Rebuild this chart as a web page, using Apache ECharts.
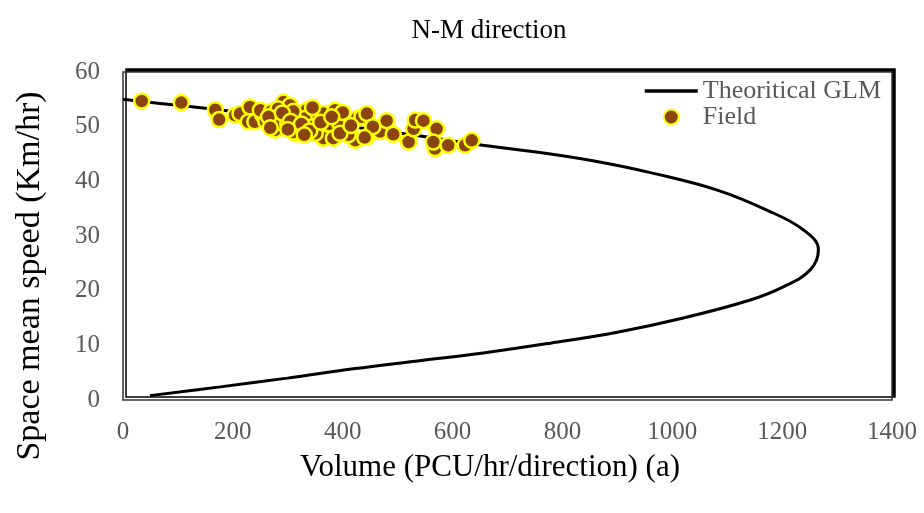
<!DOCTYPE html>
<html>
<head>
<meta charset="utf-8">
<script src="https://cdn.jsdelivr.net/npm/echarts@6/dist/echarts.min.js"></script>
<style>html,body{margin:0;padding:0;background:#fff;}#c{width:924px;height:513px;}</style>
</head>
<body>
<div id="c"></div>
<script>
// Theoretical GLM curve: [volume, speed]
var curveVolume = [0, 100, 208, 320, 430, 541, 641, 778, 870, 960, 1082, 1173, 1239, 1266, 1251, 1202, 1142, 1020, 900, 778, 656, 540, 419, 299, 177, 49];
var curveSpeed  = [55, 53.9, 52.7, 51.3, 49.8, 48.3, 46.8, 45.0, 43.5, 41.6, 38.4, 34.7, 31.1, 27.5, 23.8, 20.7, 18.3, 15.0, 12.4, 10.4, 8.6, 7.2, 5.7, 4.0, 2.4, 0.8];

// Field observations
var fieldVolume = [34, 106, 168, 175, 204, 213, 231, 228, 240, 254, 273, 277, 292, 304, 316, 319, 298, 322, 334, 337, 319, 355, 365, 365, 383, 386, 386, 405, 423, 426, 435, 444, 444, 453, 465, 468, 480, 492, 520, 529, 532, 547, 571, 568, 565, 592, 623, 635,
                   260, 285, 300, 310, 330, 345, 350, 375, 395, 410, 250, 270, 282, 345, 400, 455, 310, 440,
                   265, 290, 305, 325, 340, 360, 380, 395, 415, 300, 268, 330];
var fieldSpeed  = [54.7, 54.4, 53.1, 51.3, 52.1, 52.4, 53.6, 50.9, 50.9, 52.2, 50.3, 49.4, 54.5, 53.9, 48.7, 52.1, 51.5, 52.1, 53.0, 50.3, 49.7, 52.1, 52.4, 47.9, 47.9, 53.0, 51.5, 49.7, 47.5, 51.5, 51.8, 52.4, 48.1, 49.1, 49.1, 49.1, 51.1, 48.6, 47.2, 49.6, 51.2, 51.1, 49.6, 46.0, 47.2, 46.6, 46.6, 47.5,
                   51.0, 50.8, 50.5, 49.0, 51.5, 50.0, 48.8, 50.5, 50.5, 48.5, 53.0, 52.8, 53.3, 53.5, 52.6, 50.0, 52.8, 48.0,
                   51.8, 52.5, 51.0, 50.5, 49.2, 50.8, 51.8, 48.8, 50.2, 49.5, 49.8, 48.5];

var xTicks = [0, 200, 400, 600, 800, 1000, 1200, 1400];
var yTicks = [0, 10, 20, 30, 40, 50, 60];

var curveData = curveVolume.map(function (v, i) { return [v, curveSpeed[i]]; });
var fieldData = fieldVolume.map(function (v, i) { return [v, fieldSpeed[i]]; });

var font = 'Liberation Serif';
var chart = echarts.init(document.getElementById('c'));
chart.setOption({
  animation: false,
  backgroundColor: '#fff',
  title: {
    text: 'N-M direction',
    left: 484, top: 12, textAlign: 'center',
    textStyle: { fontFamily: font, fontSize: 27, fontWeight: 'normal', color: '#000' }
  },
  legend: {
    orient: 'vertical', left: 643, top: 78, padding: 0,
    itemWidth: 53, itemHeight: 15, itemGap: 0,
    textStyle: { fontFamily: font, fontSize: 26, lineHeight: 26, color: '#595959' },
    data: [
      { name: 'Theoritical GLM', itemStyle: { opacity: 0 }, lineStyle: { width: 3.5, color: '#000' } },
      { name: 'Field', icon: 'circle' }
    ]
  },
  grid: {
    left: 123, right: 32, top: 72, bottom: 113,
    show: true, backgroundColor: '#fff', borderColor: '#333', borderWidth: 1.5,
    shadowColor: '#000', shadowOffsetX: 3, shadowOffsetY: -3, shadowBlur: 0
  },
  xAxis: {
    type: 'value', min: xTicks[0], max: xTicks[xTicks.length - 1], interval: 200,
    name: 'Volume (PCU/hr/direction) (a)', nameLocation: 'middle', nameGap: 52,
    nameTextStyle: { fontFamily: font, fontSize: 31, color: '#000', padding: [0, 35, 0, 0] },
    axisLine: { show: false }, axisTick: { show: false }, splitLine: { show: false },
    axisLabel: { fontFamily: font, fontSize: 25, color: '#595959', margin: 20,
      formatter: function (v) { return String(v); } }
  },
  yAxis: {
    type: 'value', min: yTicks[0], max: yTicks[yTicks.length - 1], interval: 10,
    name: 'Space mean speed (Km/hr)', nameLocation: 'middle', nameGap: 76,
    nameTextStyle: { fontFamily: font, fontSize: 34, color: '#000', padding: [0, 80, 0, 0] },
    axisLine: { show: false }, axisTick: { show: false }, splitLine: { show: false },
    axisLabel: { fontFamily: font, fontSize: 25, color: '#595959', margin: 23,
      formatter: function (v) { return String(v); } }
  },
  series: [
    {
      name: 'Theoritical GLM', type: 'line', data: curveData, smooth: 0.4,
      symbol: 'none', lineStyle: { color: '#000', width: 3 }, itemStyle: { color: '#000' }, z: 2
    },
    {
      name: 'Field', type: 'scatter', data: fieldData, symbolSize: 15,
      itemStyle: { color: '#8B4513', borderColor: '#FFFF00', borderWidth: 2.5, opacity: 1 }, z: 3
    }
  ]
});
</script>
</body>
</html>
